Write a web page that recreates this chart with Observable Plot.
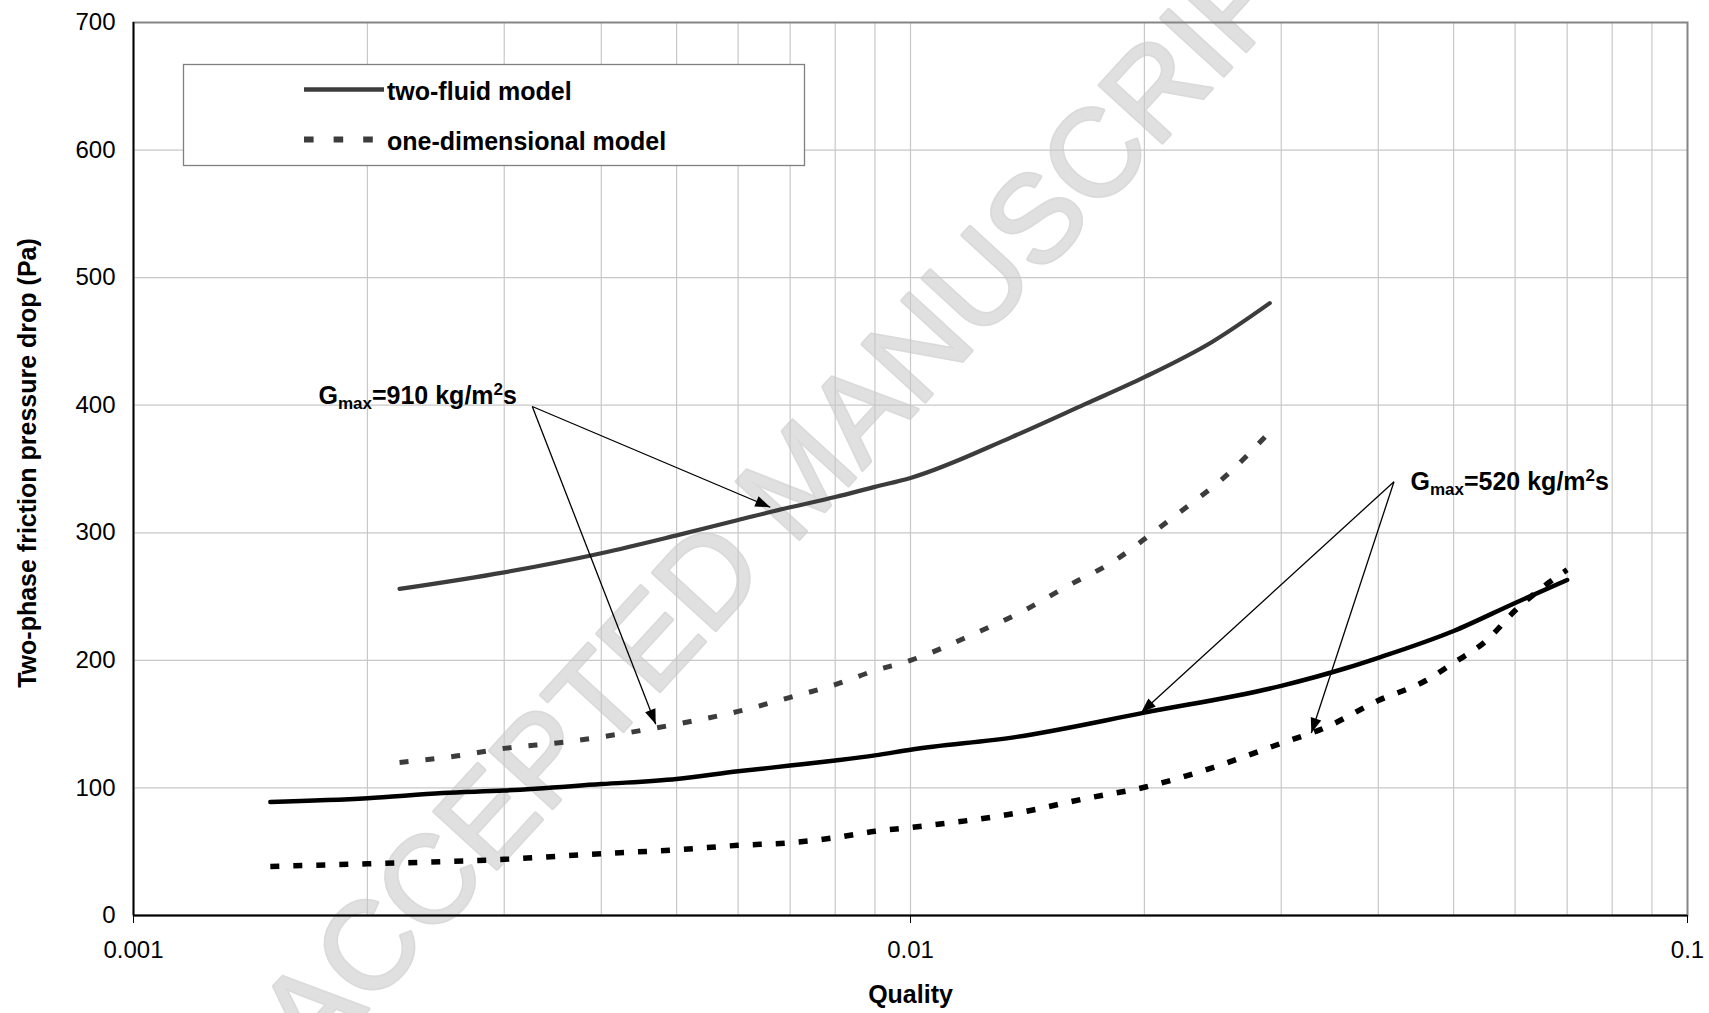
<!DOCTYPE html>
<html><head><meta charset="utf-8">
<script src="https://cdn.jsdelivr.net/npm/d3@7"></script>
<script src="https://cdn.jsdelivr.net/npm/@observablehq/plot@0.6"></script>
<style>
body{margin:0;background:#fff;}
#chart{width:1709px;height:1013px;}
</style></head><body><div id="chart"></div>
<script>
// ---- data ----
const qTwoFluid910 = [0.0022,0.003,0.004,0.005,0.006,0.007,0.008,0.009,0.01,0.0135,0.0168,0.02,0.0245,0.029];
const pTwoFluid910 = [256,269,284,298,310,320,328,336,343,375,401,422,450,480];

const qOneDim910 = [0.0022,0.0026,0.003,0.0036,0.004,0.0047,0.005,0.006,0.007,0.008,0.009,0.01,0.0121,0.0139,0.0159,0.0183,0.0205,0.0222,0.0255,0.029];
const pOneDim910 = [120,125,131,136,140,147,150,160,171,181,192,200,221,238,258,278,300,316,345,379];

const qTwoFluid520 = [0.0015,0.002,0.0025,0.003,0.004,0.005,0.006,0.007,0.008,0.009,0.01,0.0137,0.02,0.03,0.0364,0.04,0.05,0.06,0.07];
const pTwoFluid520 = [89,92,96,98,103,107,113,117.5,121.5,125.5,130,140,159,180,194,202,223,245,263];

const qOneDim520 = [0.0015,0.002,0.003,0.004,0.005,0.006,0.007,0.008,0.009,0.01,0.0139,0.0169,0.02,0.0245,0.03,0.0341,0.04,0.046,0.05,0.055,0.06,0.066,0.07];
const pOneDim520 = [38.5,40.5,44,48.5,51.5,55,57,61,66,69,81,92,100.5,116,135,147,168.5,184,198,215,239,260,271];

const xTickValues = [0.001,0.01,0.1];
const xGridValues = [0.002,0.003,0.004,0.005,0.006,0.007,0.008,0.009,0.01,0.02,0.03,0.04,0.05,0.06,0.07,0.08,0.09];
const yTickValues = [0,100,200,300,400,500,600,700];
const yGridValues = [100,200,300,400,500,600];

const legendLabels = ["two-fluid model","one-dimensional model"];
const xTitle = "Quality";
const yTitle = "Two-phase friction pressure drop (Pa)";
const watermarkText = "ACCEPTED MANUSCRIPT";

// annotations: label position, arrow source, arrow targets
const annotLabels = [
  {q:0.00173, p:407, text:"Gmax=910 kg/m2s"},
  {q:0.0440,  p:340, text:"Gmax=520 kg/m2s"}
];
const annotArrows = [
  {q1:0.00326, p1:399, q2:0.0066, p2:320},
  {q1:0.00326, p1:399, q2:0.0047, p2:150},
  {q1:0.0419,  p1:340, q2:0.0198, p2:159},
  {q1:0.0419,  p1:340, q2:0.0328, p2:143}
];

const toRows = (qs, ps) => ps.map((p, i) => ({q: qs[i], p}));

const FONT = "'Liberation Sans', Arial, Helvetica, sans-serif";
const gray = "#3c3c3c";

const chart = Plot.plot({
  width: 1709, height: 1013,
  marginLeft: 133, marginRight: 22, marginTop: 22, marginBottom: 98,
  style: {fontFamily: FONT, fontSize: "24px", background: "#fff", color: "#000"},
  x: {type: "log", domain: [0.001, 0.1]},
  y: {domain: [0, 700]},
  marks: [
    Plot.text([watermarkText], {frameAnchor: "middle", text: d => d, rotate: -47.5, dx: -110, dy: 10,
      fontSize: 124, fill: "#e0e0e0", stroke: "#dadada", strokeWidth: 3.5, textAnchor: "middle", lineAnchor: "middle"}),
    Plot.gridX(xGridValues, {stroke: "#c8c8c8", strokeOpacity: 1, strokeWidth: 1.2}),
    Plot.gridY(yGridValues, {stroke: "#c8c8c8", strokeOpacity: 1, strokeWidth: 1.2}),
    Plot.frame({stroke: "#858585", strokeWidth: 2}),
    Plot.ruleX([0.001], {stroke: "#000", strokeWidth: 1.8}),
    Plot.ruleY([0], {stroke: "#000", strokeWidth: 2}),
    Plot.axisX(xTickValues, {tickSize: 8, tickPadding: 17, tickFormat: d => String(d), label: null, stroke: "#000", fontSize: 24}),
    Plot.axisY(yTickValues, {tickSize: 0, tickPadding: 18, label: null, fontSize: 24}),
    Plot.text([xTitle], {frameAnchor: "bottom", text: d => d, dy: 79, lineAnchor: "middle", fontWeight: "bold", fontSize: 25}),
    Plot.text([yTitle], {frameAnchor: "left", text: d => d, dx: -106, dy: -6, rotate: -90, lineAnchor: "middle", textAnchor: "middle", fontWeight: "bold", fontSize: 25}),
    // curves
    Plot.line(toRows(qTwoFluid910, pTwoFluid910), {x: "q", y: "p", stroke: gray, strokeWidth: 4.2, curve: "monotone-x"}),
    Plot.line(toRows(qOneDim910, pOneDim910), {x: "q", y: "p", stroke: gray, strokeWidth: 5, strokeDasharray: "9,17", strokeLinecap: "butt", curve: "monotone-x"}),
    Plot.line(toRows(qTwoFluid520, pTwoFluid520), {x: "q", y: "p", stroke: "#000", strokeWidth: 4.5, curve: "monotone-x"}),
    Plot.line(toRows(qOneDim520, pOneDim520), {x: "q", y: "p", stroke: "#000", strokeWidth: 5.5, strokeDasharray: "9,14", strokeLinecap: "butt", curve: "monotone-x"}),
    // annotations
    Plot.link(annotArrows, {x1: "q1", y1: "p1", x2: "q2", y2: "p2", stroke: "#000", strokeWidth: 1.3, markerEnd: "arrow"}),
    Plot.text(annotLabels, {x: "q", y: "p", text: "text", textAnchor: "start", lineAnchor: "middle", fontWeight: "bold", fontSize: 25, fill: "#000"})
  ]
});

document.getElementById("chart").appendChild(chart);
const svg = d3.select(chart);

// filled triangular arrow heads
svg.selectAll("marker").each(function () {
  const m = d3.select(this);
  m.attr("viewBox", "-16 -8 17 16").attr("markerWidth", 17).attr("markerHeight", 16)
   .attr("markerUnits", "userSpaceOnUse").attr("refX", 0).attr("refY", 0)
   .attr("fill", "#000").attr("stroke", "none");
  m.selectAll("*").remove();
  m.append("path").attr("d", "M-15,-5.5L0,0L-15,5.5Z").attr("fill", "#000");
});

// subscripts / superscripts in the annotation labels
svg.selectAll("text").each(function () {
  const t = this.textContent;
  const m = t.match(/^Gmax=(\d+) kg\/m2s$/);
  if (!m) return;
  const s = d3.select(this);
  s.text(null);
  s.append("tspan").text("G");
  s.append("tspan").attr("font-size", 17).attr("dy", 5).text("max");
  s.append("tspan").attr("dy", -5).text("=" + m[1] + " kg/m");
  s.append("tspan").attr("font-size", 17).attr("dy", -9).text("2");
  s.append("tspan").attr("dy", 9).text("s");
});

// legend box inside the plot area
const lg = svg.append("g").attr("aria-label", "legend").attr("font-family", FONT).attr("text-anchor", "start");
lg.append("rect").attr("x", 183.5).attr("y", 64.5).attr("width", 621).attr("height", 101)
  .attr("fill", "#fff").attr("stroke", "#808080").attr("stroke-width", 1.3);
lg.append("line").attr("x1", 304).attr("x2", 384).attr("y1", 89.5).attr("y2", 89.5)
  .attr("stroke", gray).attr("stroke-width", 4.7);
lg.append("line").attr("x1", 304).attr("x2", 384).attr("y1", 139.5).attr("y2", 139.5)
  .attr("stroke", gray).attr("stroke-width", 6).attr("stroke-dasharray", "9.6,20");
lg.selectAll("text.lt").data(legendLabels).join("text").attr("class", "lt")
  .attr("x", 387).attr("y", (d, i) => i === 0 ? 100 : 149.5).attr("text-anchor", "start")
  .attr("font-size", 25).attr("font-weight", "bold").attr("fill", "#000").text(d => d);
</script>
</body></html>
